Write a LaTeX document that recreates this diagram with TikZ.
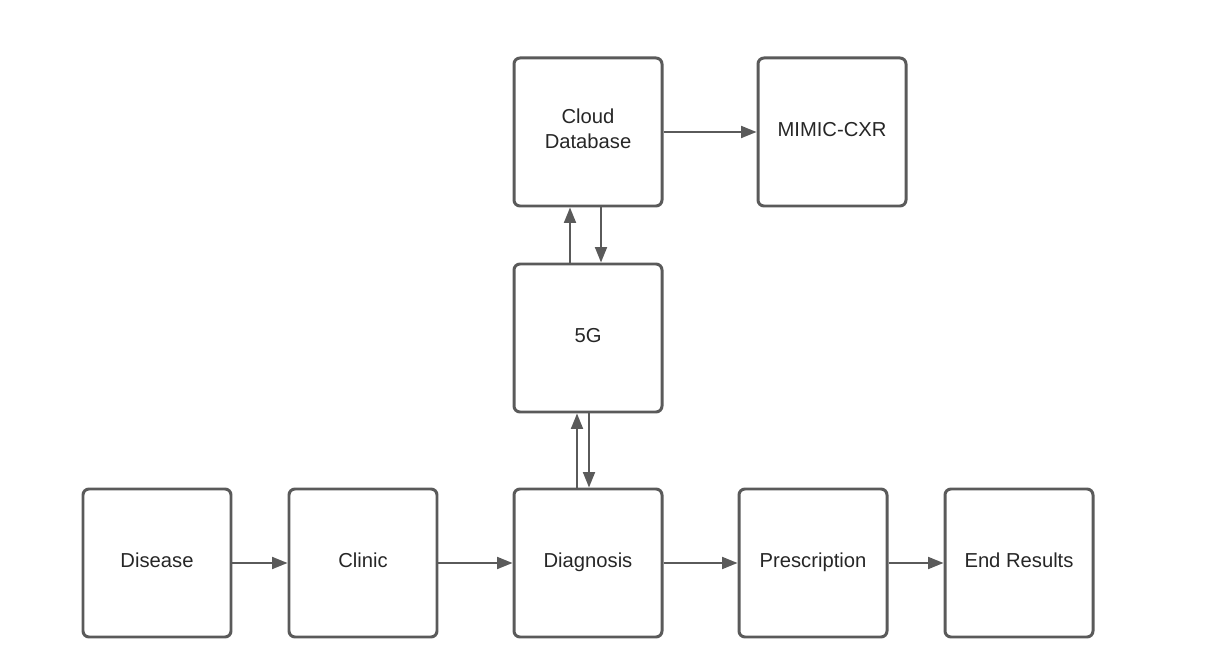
\documentclass[tikz,border=0pt]{standalone}
\usepackage{fontspec}
\setmainfont{Liberation Sans}
\usepackage{xcolor}
\usetikzlibrary{arrows.meta}
\definecolor{boxgray}{HTML}{5A5A5A}
\tikzset{
	stage/.style={draw=boxgray, line width=1.7pt, rounded corners=0.12cm,
		minimum width=2.96cm, minimum height=2.96cm, inner sep=0pt,
		align=center, font=\fontsize{11.5}{14.2}\selectfont, text=black!85,
		execute at begin node=\strut},
	flow/.style={draw=boxgray, line width=1.1pt,
		-{Triangle[length=0.31cm, width=0.24cm]}},
}

\begin{document}
\begin{tikzpicture}
		\useasboundingbox (0,0) rectangle (24.48,-13.32);
		\path (3.14,-11.26) node[stage] (disease) {Disease};
		\path (disease) ++(4.12, 0) node[stage] (clinic) {Clinic};
		\path (clinic) ++(4.5, 0) node[stage] (diagnosis) {Diagnosis};
		\path (diagnosis) ++(4.5, 0) node[stage] (prescription) {Prescription};
		\path (prescription) ++(4.12, 0) node[stage] (results) {End Results};
		\path (diagnosis) ++(0, 4.5) node[stage] (5g) {5G};
		\path (5g) ++(0, 4.12) node[stage] (cloud) {Cloud\\Database};
		\path (cloud) ++(4.88, 0) node[stage] (mimic) {MIMIC-CXR};

		\draw [flow] (disease) -- (clinic);
		\draw [flow] (clinic) -- (diagnosis);
		\draw [flow] (diagnosis) -- (prescription);
		\draw [flow] (prescription) -- (results);
		\draw [flow] (cloud) -- (mimic);

		\draw [flow] ([xshift=-0.36cm]5g.north) -- ([xshift=-0.36cm]cloud.south);
		\draw [flow] ([xshift=0.26cm]cloud.south) -- ([xshift=0.26cm]5g.north);
		\draw [flow] ([xshift=-0.22cm]diagnosis.north) -- ([xshift=-0.22cm]5g.south);
		\draw [flow] ([xshift=0.02cm]5g.south) -- ([xshift=0.02cm]diagnosis.north);
	\end{tikzpicture}
\end{document}
